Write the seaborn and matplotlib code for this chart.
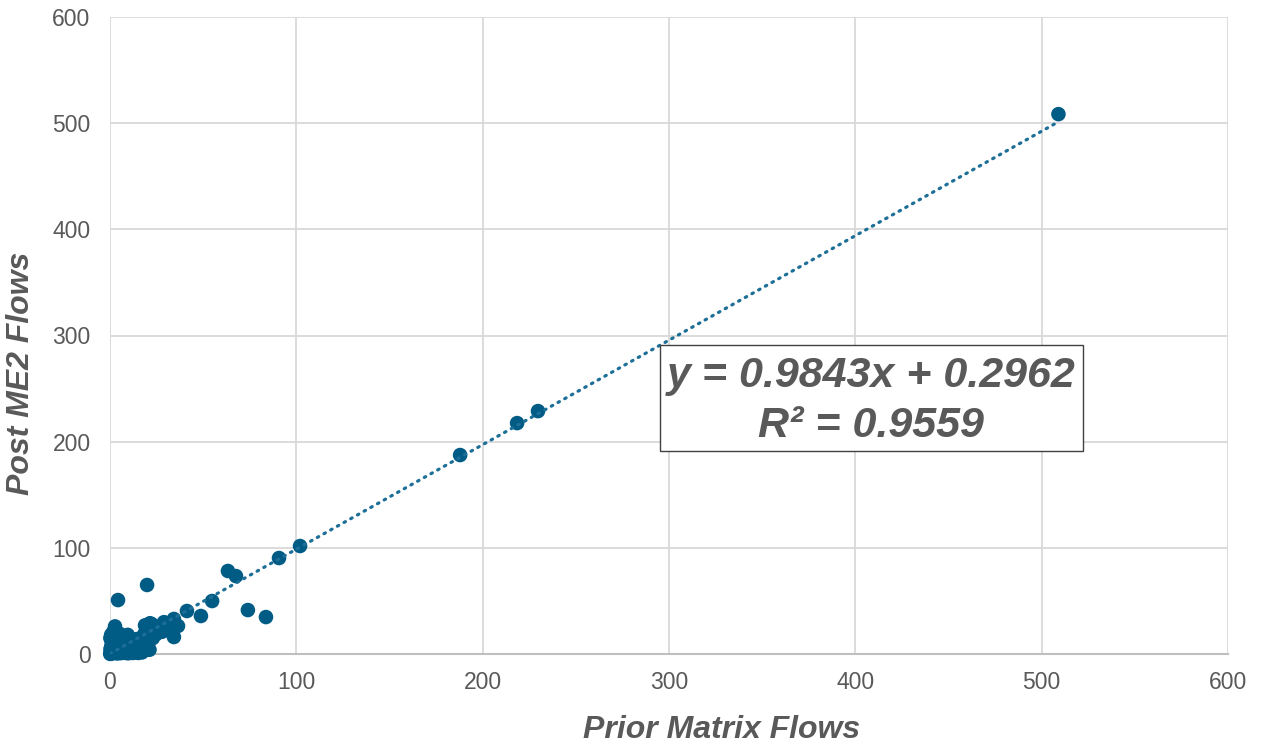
import numpy as np
import pandas as pd
import matplotlib
matplotlib.use("Agg")
import matplotlib.pyplot as plt
import seaborn as sns
from matplotlib.patches import Rectangle

# Flow pairs: prior matrix vs post ME2
prior_flows = [
    509, 229.7, 218.5, 187.9, 102, 90.7, 67.6, 63.3, 54.8, 74, 83.7, 48.8, 41.3,
    36.5, 34.3, 34.3, 19.9, 4.3, 28.4, 25.8, 21.5, 18.8,
    0.5, 1, 1.5, 2, 2.5, 3, 0.8, 1.2, 2, 2.7, 3.5, 4, 4.5, 5, 5.5, 6, 6.5, 7,
    7.5, 8, 8.5, 9, 9.5, 10, 10.5, 11, 11.5, 12, 12.5, 13, 13.5, 14, 14.5, 15,
    15.5, 16, 16.5, 17, 17.5, 18, 18.5, 19, 19.5, 20, 21, 22, 22.5, 23, 24, 25,
    26, 27, 28, 29, 30, 31, 32, 0.2, 0.3, 0.6, 1.8, 3.2, 4.2, 5.2, 6.2, 7.2,
    8.2, 9.2, 10.2, 11.2, 12.2, 13.2, 14.2, 15.2, 16.2, 17.2, 18.2, 19.2, 20.2,
    21.2, 3.8, 5.8, 7.8, 9.8, 2.2, 4.8, 6.8, 0.1, 0.4, 1.4, 0.9, 1.6, 2.4,
]
post_flows = [
    508.5, 228.8, 217.5, 187.4, 101.7, 90.4, 73.4, 78.2, 49.9, 41.4, 34.8, 35.8,
    40.5, 26.4, 16, 33, 65, 50.8, 28, 24.5, 29, 27,
    0.3, 2, 0.8, 4, 1.5, 6, 8, 11, 14, 26, 20, 9, 3, 12, 7, 16, 2, 10,
    5, 14, 1, 8, 18, 4, 11, 7, 2, 9, 13, 5, 1.5, 11, 7, 3,
    12, 6, 15, 9, 4, 13, 19, 8, 22, 17, 12, 20, 28, 15, 24, 19,
    22, 26, 21, 30, 25, 27, 23, 15, 5, 18, 21, 17, 14, 19, 11, 13,
    6, 3, 15, 12, 1, 8, 14, 1, 9, 1.5, 5, 11, 8,
    4, 0.5, 0.8, 1.2, 0.7, 10, 5, 8, 0.1, 3, 6, 12, 16, 9,
]

# Fitted trendline as reported in the equation box
slope = 0.9843
intercept = 0.2962
r_squared = 0.9559

axis_ticks = [0, 100, 200, 300, 400, 500, 600]

df = pd.DataFrame({"prior": prior_flows, "post": post_flows})

sns.set_theme(style="white")
plt.rcParams["font.family"] = ["Liberation Sans", "DejaVu Sans"]

text_grey = "#595959"
marker_blue = "#005b85"
line_blue = "#1d6f97"

fig = plt.figure(figsize=(12.61, 7.47), dpi=100)
ax = fig.add_axes([110 / 1261, 93 / 747, 1118 / 1261, 637 / 747])

sns.scatterplot(data=df, x="prior", y="post", ax=ax, s=110, color=marker_blue,
                edgecolor="none", linewidth=0, zorder=3, clip_on=False)

xs = np.array([0, max(prior_flows)])
ax.plot(xs, slope * xs + intercept, color=line_blue, lw=2.3,
        linestyle=(0, (0.5, 1.9)), dash_capstyle="round", zorder=4)

ax.set_xlim(0, 600)
ax.set_ylim(0, 600)
ax.set_xticks(axis_ticks)
ax.set_yticks(axis_ticks)
ax.grid(True, color="#d9d9d9", lw=1.3)
ax.set_axisbelow(True)
for side in ["top", "right", "left"]:
    ax.spines[side].set_visible(False)
ax.spines["bottom"].set_color("#bfbfbf")
ax.spines["bottom"].set_linewidth(1.5)
ax.tick_params(axis="both", length=0, labelsize=16.5, labelcolor=text_grey)
ax.tick_params(axis="x", pad=12)
ax.tick_params(axis="y", pad=14)

ax.set_xlabel("Prior Matrix Flows", fontsize=23, fontweight="bold",
              fontstyle="italic", color=text_grey)
ax.set_ylabel("Post ME2 Flows", fontsize=23, fontweight="bold",
              fontstyle="italic", color=text_grey)
ax.xaxis.set_label_coords(0.547, -0.095)
ax.yaxis.set_label_coords(-0.066, 0.441)

# Equation box
fig.patches.append(Rectangle((660 / 1261, 1 - 451 / 747), 423 / 1261, 106 / 747,
                             transform=fig.transFigure, facecolor="white",
                             edgecolor="#404040", lw=1.0, zorder=5))
fig.text(871 / 1261, 1 - 376 / 747, f"y = {slope:.4f}x + {intercept:.4f}",
         ha="center", va="center", fontsize=31, fontweight="bold",
         fontstyle="italic", color=text_grey, zorder=6)
fig.text(871 / 1261, 1 - 426 / 747, f"R² = {r_squared:.4f}",
         ha="center", va="center", fontsize=31, fontweight="bold",
         fontstyle="italic", color=text_grey, zorder=6)

fig.savefig("out.png", dpi=100)
